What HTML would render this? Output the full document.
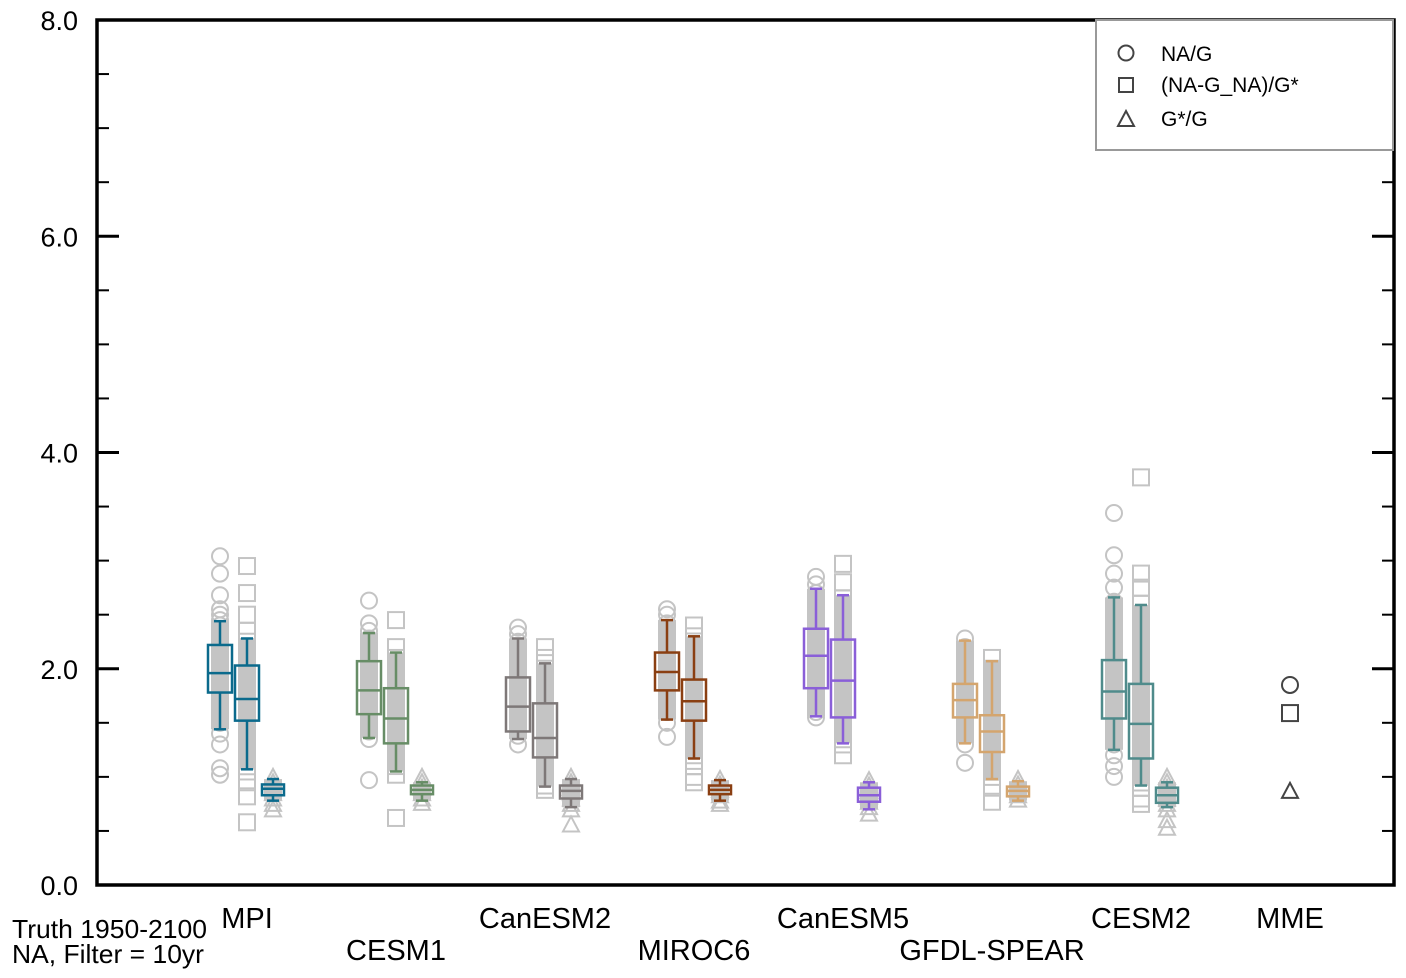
<!DOCTYPE html>
<html><head><meta charset="utf-8"><style>
html,body{margin:0;padding:0;background:#fff;}
svg{display:block;font-family:"Liberation Sans",Arial,sans-serif;}
</style></head><body>
<svg id="chart" width="1406" height="978" viewBox="0 0 1406 978" xmlns="http://www.w3.org/2000/svg">
<g id="marks"></g>
<g id="axes"></g>
<g id="legend">
  <rect x="1096" y="20" width="297" height="130" fill="#fff" stroke="#999" stroke-width="2"/>
  <g><circle cx="1126" cy="53" r="7.5" fill="none" stroke="#444" stroke-width="2"/><text x="1161" y="61" font-size="21">NA/G</text></g>
  <g><rect x="1119" y="78" width="14" height="14" fill="none" stroke="#444" stroke-width="2"/><text x="1161" y="92" font-size="21">(NA-G_NA)/G*</text></g>
  <g><path d="M1118,126 L1134,126 L1126,111 Z" fill="none" stroke="#444" stroke-width="2"/><text x="1161" y="126" font-size="21">G*/G</text></g>
</g>
<g font-size="26">
  <text x="12" y="938" textLength="195" lengthAdjust="spacingAndGlyphs">Truth 1950-2100</text>
  <text x="12" y="963" textLength="192" lengthAdjust="spacingAndGlyphs">NA, Filter = 10yr</text>
</g>
</svg>
<script>
const models = ["MPI","CESM1","CanESM2","MIROC6","CanESM5","GFDL-SPEAR","CESM2"];
const colors = ["#0b6a8c","#678d66","#7e7878","#8a3f12","#8a5fd8","#d4a56e","#4f8b8b"];
// [whiskerLo, q1, median, q3, whiskerHi]
const statsCircle = [[1.44,1.78,1.96,2.22,2.44],[1.36,1.58,1.80,2.07,2.33],[1.35,1.42,1.65,1.92,2.28],[1.53,1.80,1.97,2.15,2.45],[1.56,1.82,2.12,2.37,2.74],[1.31,1.55,1.71,1.86,2.26],[1.25,1.54,1.79,2.08,2.66]];
const statsSquare = [[1.07,1.52,1.72,2.03,2.28],[1.05,1.31,1.54,1.82,2.15],[0.91,1.18,1.36,1.68,2.05],[1.17,1.52,1.70,1.90,2.30],[1.31,1.55,1.89,2.27,2.68],[0.98,1.23,1.42,1.57,2.07],[0.92,1.17,1.49,1.86,2.59]];
const statsTri = [[0.78,0.83,0.89,0.93,0.98],[0.78,0.84,0.88,0.92,0.95],[0.72,0.80,0.87,0.92,0.98],[0.78,0.84,0.88,0.92,0.97],[0.70,0.77,0.83,0.90,0.95],[0.78,0.82,0.87,0.91,0.96],[0.72,0.76,0.83,0.90,0.95]];
const ptsCircle = [
 [3.04,2.88,2.68,2.55,2.5,2.45,2.4,2.3,2.2,2.1,2.0,1.9,1.8,1.7,1.6,1.5,1.4,1.3,1.08,1.02],
 [2.63,2.42,2.35,2.28,2.2,2.1,2.0,1.9,1.8,1.7,1.6,1.5,1.42,1.35,0.97],
 [2.38,2.32,2.25,2.15,2.05,1.95,1.85,1.75,1.65,1.55,1.45,1.38,1.3],
 [2.55,2.5,2.42,2.32,2.2,2.1,2.0,1.9,1.8,1.7,1.6,1.5,1.37],
 [2.85,2.78,2.7,2.6,2.5,2.4,2.3,2.2,2.1,2.0,1.9,1.8,1.7,1.6,1.55],
 [2.28,2.2,2.1,2.0,1.9,1.8,1.7,1.6,1.5,1.4,1.3,1.13],
 [3.44,3.05,2.88,2.75,2.62,2.5,2.4,2.3,2.2,2.1,2.0,1.9,1.8,1.7,1.6,1.5,1.4,1.3,1.2,1.1,1.0]];
const ptsSquare = [
 [2.95,2.7,2.5,2.35,2.25,2.15,2.05,1.95,1.85,1.75,1.65,1.55,1.45,1.35,1.25,1.15,1.05,0.95,0.82,0.58],
 [2.45,2.2,2.1,2.0,1.9,1.8,1.7,1.6,1.5,1.4,1.3,1.2,1.1,1.02,0.62],
 [2.2,2.1,2.0,1.9,1.8,1.7,1.6,1.5,1.4,1.3,1.2,1.1,1.0,0.92,0.88],
 [2.4,2.3,2.2,2.1,2.0,1.9,1.8,1.7,1.6,1.5,1.4,1.3,1.2,1.1,1.0,0.95],
 [2.97,2.8,2.65,2.5,2.4,2.3,2.2,2.1,2.0,1.9,1.8,1.7,1.6,1.5,1.4,1.3,1.2],
 [2.1,2.0,1.9,1.8,1.7,1.6,1.5,1.4,1.3,1.2,1.1,1.0,0.9,0.77],
 [3.77,2.88,2.75,2.6,2.5,2.4,2.3,2.2,2.1,2.0,1.9,1.8,1.7,1.6,1.5,1.4,1.3,1.2,1.1,1.0,0.9,0.8,0.75]];
const ptsTri = [
 [1.0,0.95,0.9,0.85,0.8,0.75,0.7],[1.0,0.95,0.9,0.85,0.8,0.76],[1.0,0.95,0.9,0.85,0.8,0.75,0.7,0.56],
 [0.98,0.93,0.88,0.83,0.78,0.75],[0.97,0.92,0.87,0.82,0.77,0.72,0.66],[0.98,0.93,0.88,0.83,0.79],
 [1.0,0.95,0.9,0.85,0.8,0.75,0.7,0.6,0.53]];
const mmeValues = [1.85,1.59,0.87];
const yTicks = [0,2,4,6,8];
const yTickLabels = ["0.0","2.0","4.0","6.0","8.0"];

const X0=97,X1=1394,Y0=885,Y1=20;
const yScale = v => Y0 - (v/8)*(Y0-Y1);
const groupX = i => 247 + i*149;
const NS="http://www.w3.org/2000/svg";
function mk(tag, attrs, parent){const e=document.createElementNS(NS,tag);for(const k in attrs)e.setAttribute(k,attrs[k]);parent.appendChild(e);return e;}
const marks=document.getElementById('marks');
const axes=document.getElementById('axes');
const G="#c4c4c4";
function marker(type,cx,cy,stroke,parent){
  if(type===0) return mk('circle',{cx:cx,cy:cy,r:8,fill:'none',stroke:stroke,'stroke-width':2},parent);
  if(type===1) return mk('rect',{x:cx-8,y:cy-8,width:16,height:16,fill:'none',stroke:stroke,'stroke-width':2},parent);
  return mk('path',{d:`M${cx-8},${cy+7} L${cx+8},${cy+7} L${cx},${cy-8} Z`,fill:'none',stroke:stroke,'stroke-width':2},parent);
}
const allStats=[statsCircle,statsSquare,statsTri];
const allPts=[ptsCircle,ptsSquare,ptsTri];
const offs=[-27,0,26];
const names=["na-g","na-g-na-g-star","g-star-g"];
models.forEach((m,i)=>{
  const g=mk('g',{},marks);
  
  
  for(let s=0;s<3;s++){
    const cx=groupX(i)+offs[s];
    const st=allStats[s][i];
    const col=mk('rect',{x:cx-9,y:yScale(st[4]),width:18,height:yScale(st[0])-yScale(st[4]),fill:G},g);
    
    
    allPts[s][i].forEach(v=>{
      const p=marker(s,cx,yScale(v),G,g);
      
      
    });
    const bw = s===2?22:24;
    const b=mk('g',{stroke:colors[i],'stroke-width':2.5,fill:'none'},g);
    
    
    mk('line',{x1:cx,x2:cx,y1:yScale(st[0]),y2:yScale(st[1])},b);
    mk('line',{x1:cx,x2:cx,y1:yScale(st[3]),y2:yScale(st[4])},b);
    mk('line',{x1:cx-6,x2:cx+6,y1:yScale(st[0]),y2:yScale(st[0])},b);
    mk('line',{x1:cx-6,x2:cx+6,y1:yScale(st[4]),y2:yScale(st[4])},b);
    mk('rect',{x:cx-bw/2,y:yScale(st[3]),width:bw,height:yScale(st[1])-yScale(st[3])},b);
    mk('line',{x1:cx-bw/2,x2:cx+bw/2,y1:yScale(st[2]),y2:yScale(st[2])},b);
  }
  const lbl=mk('text',{x:groupX(i),y:i%2===0?928:960,'text-anchor':'middle','font-size':29},axes);
  lbl.textContent=m;
  
  
});
const mmeX=1290;
mmeValues.forEach((v,s)=>{
  const p=marker(s,mmeX,yScale(v),'#444',marks);
  
  
});
const ml=mk('text',{x:mmeX,y:928,'text-anchor':'middle','font-size':29},axes);
ml.textContent="MME";


for(let v=0;v<=8.001;v+=0.5){
  const y=yScale(v);const major=Math.abs(v%2)<1e-6;const len=major?22:12;
  const t1=mk('line',{x1:X0,x2:X0+len,y1:y,y2:y,stroke:'#000','stroke-width':major?3:2},axes);
  
  
  const t2=mk('line',{x1:X1,x2:X1-len,y1:y,y2:y,stroke:'#000','stroke-width':major?3:2},axes);
  
  
}
yTicks.forEach((v,k)=>{
  const t=mk('text',{x:78,y:yScale(v)+10,'text-anchor':'end','font-size':27},axes);
  t.textContent=yTickLabels[k];
  
  
});
const frame=mk('rect',{x:X0,y:Y1,width:X1-X0,height:Y0-Y1,fill:'none',stroke:'#000','stroke-width':3.5},axes);


</script>
</body></html>
